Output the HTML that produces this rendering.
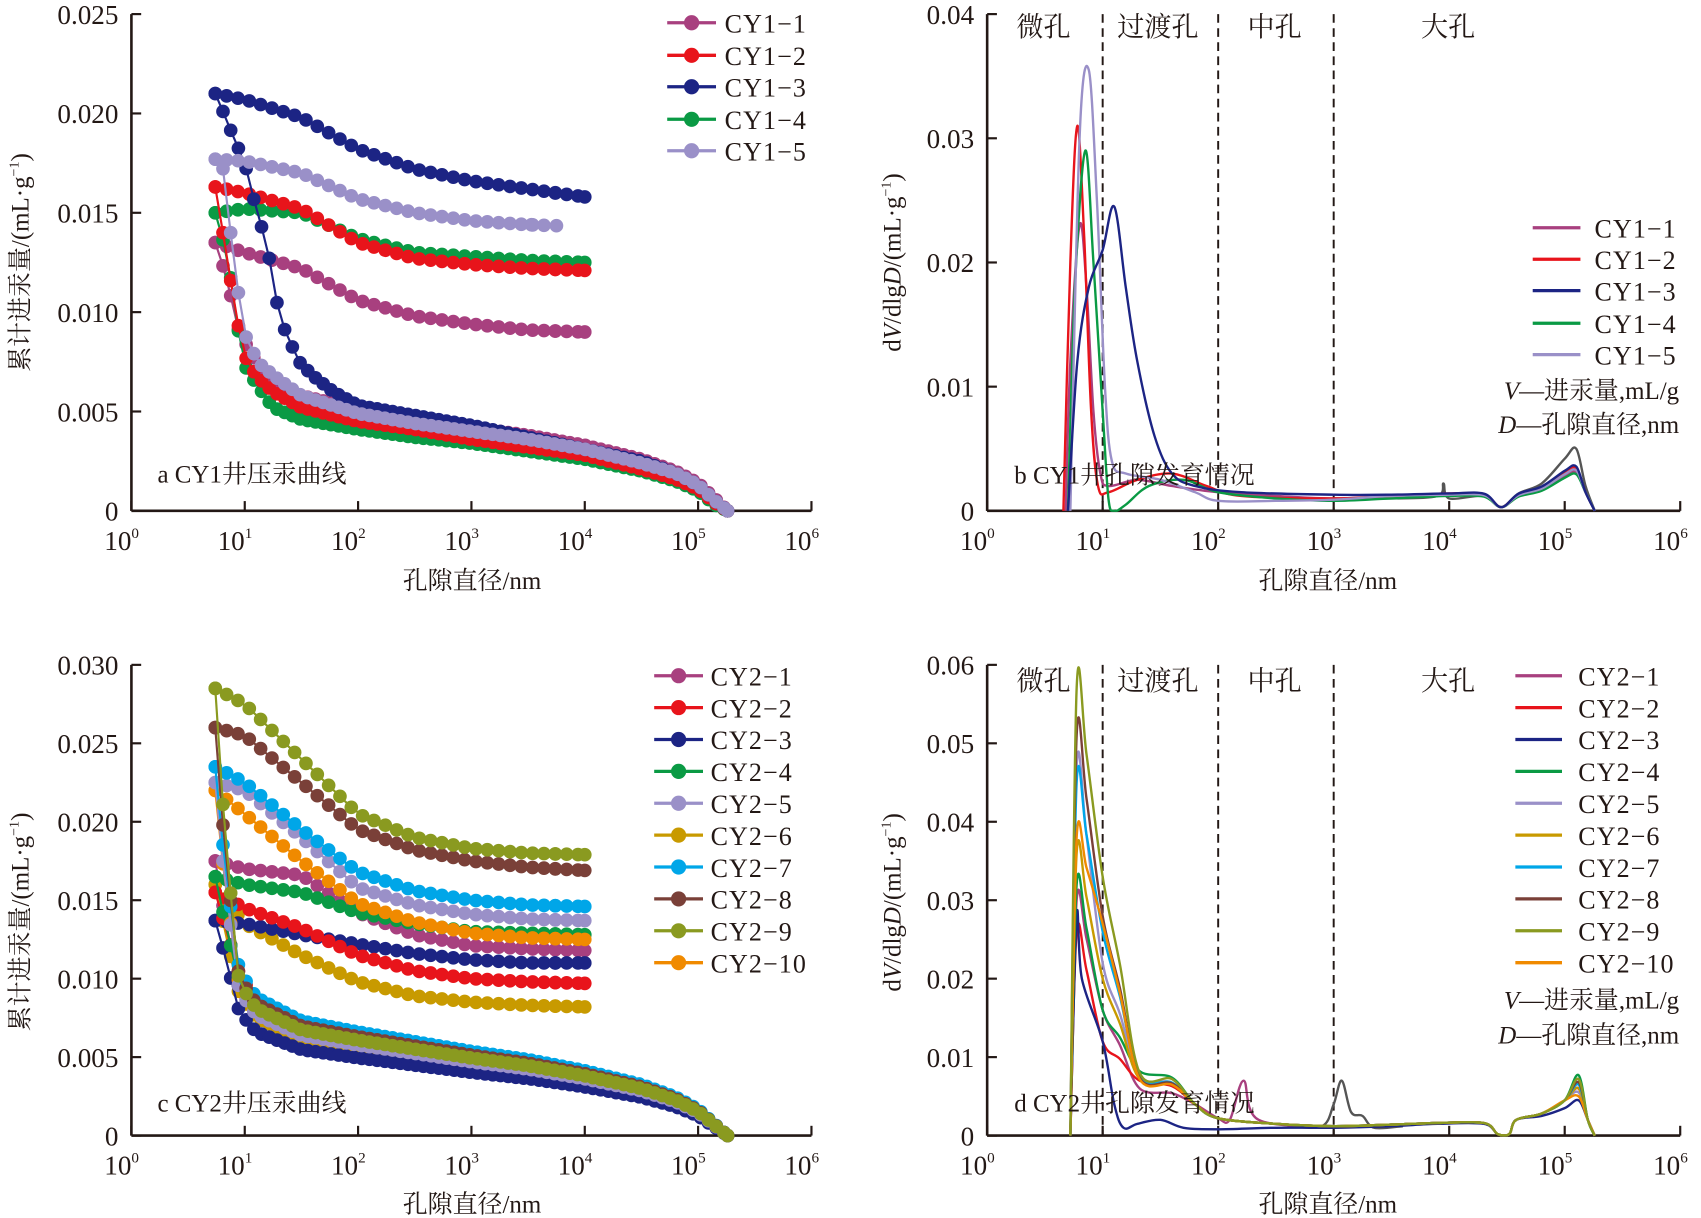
<!DOCTYPE html>
<html><head><meta charset="utf-8">
<style>
html,body{margin:0;padding:0;background:#fff;}
svg{display:block;}
text{font-family:"Liberation Serif","Noto Serif CJK SC","Noto Sans CJK SC",serif;fill:#231815;}
</style></head>
<body>
<svg id="s" width="1701" height="1218" viewBox="0 0 1568 1123" xmlns="http://www.w3.org/2000/svg">
<defs>
<clipPath id="ca"><rect x="121" y="0" width="640" height="478"/></clipPath>
<clipPath id="cb"><rect x="910" y="0" width="640" height="472"/></clipPath>
<clipPath id="cc"><rect x="121" y="600" width="640" height="454"/></clipPath>
<clipPath id="cd"><rect x="910" y="600" width="640" height="448"/></clipPath>
</defs>
<g id="g"></g>
<g font-size="23">
<text x="435" y="543" text-anchor="middle">孔隙直径/nm</text>
<text x="1224" y="543" text-anchor="middle">孔隙直径/nm</text>
<text x="435" y="1118" text-anchor="middle">孔隙直径/nm</text>
<text x="1224" y="1118" text-anchor="middle">孔隙直径/nm</text>
<text transform="translate(26,242) rotate(-90)" text-anchor="middle">累计进汞量/(mL·g<tspan font-size="13" dy="-9">−1</tspan><tspan dy="9">)</tspan></text>
<text transform="translate(26,850) rotate(-90)" text-anchor="middle">累计进汞量/(mL·g<tspan font-size="13" dy="-9">−1</tspan><tspan dy="9">)</tspan></text>
<text transform="translate(830,242) rotate(-90)" text-anchor="middle">d<tspan font-style="italic">V</tspan>/dlg<tspan font-style="italic">D</tspan>/(mL·g<tspan font-size="13" dy="-9">−1</tspan><tspan dy="9">)</tspan></text>
<text transform="translate(830,832) rotate(-90)" text-anchor="middle">d<tspan font-style="italic">V</tspan>/dlg<tspan font-style="italic">D</tspan>/(mL·g<tspan font-size="13" dy="-9">−1</tspan><tspan dy="9">)</tspan></text>
<text x="145" y="445">a CY1井压汞曲线</text>
<text x="145" y="1025">c CY2井压汞曲线</text>
<text x="935" y="446">b CY1井孔隙发育情况</text>
<text x="935" y="1025">d CY2井孔隙发育情况</text>
<g font-size="25">
<text x="937" y="33">微孔</text><text x="1030" y="33">过渡孔</text><text x="1150" y="33">中孔</text><text x="1310" y="33">大孔</text>
<text x="937" y="636">微孔</text><text x="1030" y="636">过渡孔</text><text x="1150" y="636">中孔</text><text x="1310" y="636">大孔</text>
</g>
<text x="1548" y="368" text-anchor="end"><tspan font-style="italic">V</tspan>—进汞量,mL/g</text>
<text x="1548" y="399" text-anchor="end"><tspan font-style="italic">D</tspan>—孔隙直径,nm</text>
<text x="1548" y="930" text-anchor="end"><tspan font-style="italic">V</tspan>—进汞量,mL/g</text>
<text x="1548" y="962" text-anchor="end"><tspan font-style="italic">D</tspan>—孔隙直径,nm</text>
</g>
</svg>
<script>
(function(){
var NS="http://www.w3.org/2000/svg", G=document.getElementById("g");
function el(t,a,p){var e=document.createElementNS(NS,t);for(var k in a)e.setAttribute(k,a[k]);(p||G).appendChild(e);return e;}
function txt(x,y,s,a){var e=el("text",Object.assign({x:x,y:y},a||{}));e.textContent=s;return e;}
var P={
 a:{x0:121,dec:104.5,y0:471,ytop:13,vmax:0.025},
 b:{x0:910,dec:106.5,y0:471,ytop:13,vmax:0.04},
 c:{x0:121,dec:104.5,y0:1047,ytop:613,vmax:0.03},
 d:{x0:910,dec:106.5,y0:1047,ytop:613,vmax:0.06}};
function X(p,l){return p.x0+l*p.dec;}
function Y(p,v){return p.y0-v/p.vmax*(p.y0-p.ytop);}
function interp(pts,l){if(l<=pts[0][0])return pts[0][1];for(var i=1;i<pts.length;i++){if(l<=pts[i][0]){var a=pts[i-1],b=pts[i];return a[1]+(b[1]-a[1])*(l-a[0])/(b[0]-a[0]);}}return pts[pts.length-1][1];}
function axes(p,ticks,fmt){
 var xe=X(p,6);
 el("line",{x1:p.x0,y1:p.ytop,x2:p.x0,y2:p.y0,stroke:"#231815","stroke-width":2.4});
 el("line",{x1:p.x0,y1:p.y0,x2:xe,y2:p.y0,stroke:"#231815","stroke-width":2.4});
 for(var i=0;i<=6;i++){var x=X(p,i);el("line",{x1:x,y1:p.y0,x2:x,y2:p.y0-9,stroke:"#231815","stroke-width":2});
  var t=txt(x-9,p.y0+36,"10",{"font-size":25,"text-anchor":"middle"});var s=document.createElementNS(NS,"tspan");s.setAttribute("font-size","14");s.setAttribute("dy","-11");s.textContent=""+i;t.appendChild(s);}
 ticks.forEach(function(v,i){var y=Y(p,v);el("line",{x1:p.x0,y1:y,x2:p.x0+9,y2:y,stroke:"#231815","stroke-width":2});
  txt(p.x0-12,y+9,fmt[i],{"font-size":25,"text-anchor":"end"});});
}
axes(P.a,[0,0.005,0.01,0.015,0.02,0.025],["0","0.005","0.010","0.015","0.020","0.025"]);
axes(P.c,[0,0.005,0.01,0.015,0.02,0.025,0.03],["0","0.005","0.010","0.015","0.020","0.025","0.030"]);
axes(P.b,[0,0.01,0.02,0.03,0.04],["0","0.01","0.02","0.03","0.04"]);
axes(P.d,[0,0.01,0.02,0.03,0.04,0.05,0.06],["0","0.01","0.02","0.03","0.04","0.05","0.06"]);
[P.b,P.d].forEach(function(p){[1,2,3].forEach(function(l){var x=X(p,l);el("line",{x1:x,y1:p.ytop,x2:x,y2:p.y0,stroke:"#231815","stroke-width":1.8,"stroke-dasharray":"8,5"});});});
var C1=["#a8407f","#e8141b","#1c2484","#0a9a44","#9a90c8"];
var C2=["#a8407f","#e8141b","#1c2484","#0a9a44","#9a90c8","#c89a00","#00a6e8","#7a4038","#8a9a20","#f08a00"];
function scatterSeries(p,clip,col,lower,upper,uend){
 var g=el("g",{"clip-path":"url(#"+clip+")"});
 var pts=[];for(var l=0.74;l<=5.261;l+=0.068)pts.push([l,interp(lower,l)]);pts.push([5.26,0]);
 var up=[];for(var l=0.74;l<uend-0.05;l+=0.1)up.push([l,interp(upper,l)]);up.push([uend-0.02-(uend>3.9?0.24:0.2),interp(upper,uend-0.24)]);up.push([uend,interp(upper,uend)]);
 up.sort(function(a,b){return a[0]-b[0];});
 function poly(a){return a.map(function(q){return X(p,q[0]).toFixed(1)+","+Y(p,q[1]).toFixed(1);}).join(" ");}
 el("polyline",{points:poly(pts),fill:"none",stroke:col,"stroke-width":2},g);
 el("polyline",{points:poly(up),fill:"none",stroke:col,"stroke-width":2},g);
 pts.concat(up).forEach(function(q){el("circle",{cx:X(p,q[0]),cy:Y(p,q[1]),r:6.3,fill:col},g);});
}
var UL=[0.74,1,1.5,2,2.5,3,3.5,4];
function mk(vals){return UL.map(function(l,i){return [l,vals[i]];});}
var aU=[
 mk([0.0135,0.013,0.0122,0.0106,0.0098,0.0094,0.0091,0.009]),
 mk([0.0163,0.016,0.0152,0.0135,0.0127,0.0124,0.0122,0.0121]),
 mk([0.021,0.0207,0.0198,0.0182,0.0172,0.0166,0.0162,0.0158]),
 mk([0.015,0.0152,0.015,0.0137,0.013,0.0128,0.0126,0.0125]),
 mk([0.0177,0.0176,0.017,0.0157,0.015,0.0146,0.0144,0.0143])];
var aL=[
 [[0.74,0.0135],[0.8,0.0125],[0.87,0.011],[0.93,0.0093],[1.0,0.0085],[1.1,0.0075],[1.2,0.0068],[1.5,0.0058],[2,0.0051],[2.5,0.0047],[3,0.0042],[3.5,0.0038],[4,0.0033],[4.5,0.0026],[4.8,0.002],[5,0.0014],[5.15,0.0006],[5.26,0]],
 [[0.74,0.0163],[0.78,0.015],[0.85,0.0125],[0.93,0.0097],[1.0,0.0078],[1.1,0.0068],[1.25,0.006],[1.5,0.0052],[2,0.0045],[2.5,0.0041],[3,0.0036],[3.5,0.0032],[4,0.0028],[4.5,0.0021],[4.8,0.0016],[5,0.0011],[5.15,0.0004],[5.26,0]],
 [[0.74,0.021],[0.78,0.0205],[0.85,0.0195],[1.0,0.0175],[1.11,0.015],[1.18,0.0137],[1.26,0.0115],[1.3,0.0098],[1.4,0.0085],[1.48,0.0075],[1.6,0.0068],[1.78,0.006],[2,0.0053],[2.5,0.0048],[3,0.0043],[3.5,0.0037],[4,0.0031],[4.5,0.0025],[4.8,0.0019],[5,0.0013],[5.15,0.0005],[5.26,0]],
 [[0.74,0.015],[0.78,0.0142],[0.85,0.0128],[0.93,0.0095],[1.0,0.0073],[1.1,0.0064],[1.25,0.0052],[1.5,0.0046],[2,0.0041],[2.5,0.0037],[3,0.0034],[3.5,0.003],[4,0.0026],[4.5,0.002],[4.8,0.0015],[5,0.001],[5.15,0.0003],[5.26,0]],
 [[0.74,0.0177],[0.8,0.0176],[0.85,0.0152],[0.93,0.0115],[1.0,0.0089],[1.07,0.008],[1.15,0.0073],[1.3,0.0066],[1.5,0.0058],[2,0.0049],[2.5,0.0044],[3,0.004],[3.5,0.0036],[4,0.0031],[4.5,0.0024],[4.8,0.0019],[5,0.0013],[5.15,0.0005],[5.26,0]]];
[0,3,1,2,4].forEach(function(i){scatterSeries(P.a,"ca",C1[i],aL[i],aU[i],i==4?3.75:4.0);});
var cU=[
 mk([0.0175,0.017,0.0166,0.0142,0.0128,0.0121,0.0119,0.0118]),
 mk([0.0155,0.0145,0.0132,0.0115,0.0105,0.01,0.0098,0.0097]),
 mk([0.0137,0.0135,0.0128,0.0122,0.0116,0.0112,0.011,0.011]),
 mk([0.0165,0.016,0.0155,0.0142,0.0135,0.013,0.0129,0.0128]),
 mk([0.0225,0.022,0.019,0.0158,0.0147,0.0141,0.0138,0.0137]),
 mk([0.016,0.0135,0.0115,0.0098,0.0089,0.0085,0.0083,0.0082]),
 mk([0.0235,0.0225,0.0195,0.0168,0.0156,0.015,0.0147,0.0146]),
 mk([0.026,0.0255,0.0225,0.0195,0.0182,0.0175,0.0171,0.0169]),
 mk([0.0285,0.0275,0.024,0.0205,0.019,0.0183,0.018,0.0179]),
 mk([0.022,0.0205,0.0175,0.0148,0.0136,0.0129,0.0126,0.0125])];
var kk=[0.0078,0.0086,0.0066,0.0082,0.0077,0.0075,0.0088,0.0084,0.0081,0.008];
function cLower(top,k){return [[0.74,top],[0.82,(top+k)/2+0.0015],[0.95,k*1.2],[1.1,k],[1.5,k*0.83],[2,k*0.75],[2.5,k*0.68],[3,k*0.61],[3.5,k*0.55],[4,k*0.47],[4.5,k*0.37],[4.8,k*0.28],[5,k*0.19],[5.15,k*0.08],[5.26,0]];}
[0,5,2,1,3,9,4,6,7,8].forEach(function(i){scatterSeries(P.c,"cc",C2[i],cLower(cU[i][0][1],kk[i]),cU[i],4.0);});
function smooth(p,pts,col,clip,w){
 var q=pts.map(function(a){return [X(p,a[0]),Y(p,a[1])];});
 var d="M"+q[0][0].toFixed(1)+","+q[0][1].toFixed(1);
 for(var i=0;i<q.length-1;i++){var p0=q[Math.max(i-1,0)],p1=q[i],p2=q[i+1],p3=q[Math.min(i+2,q.length-1)];
  var c1=[p1[0]+(p2[0]-p0[0])/6,p1[1]+(p2[1]-p0[1])/6],c2=[p2[0]-(p3[0]-p1[0])/6,p2[1]-(p3[1]-p1[1])/6];
  d+=" C"+c1[0].toFixed(1)+","+c1[1].toFixed(1)+" "+c2[0].toFixed(1)+","+c2[1].toFixed(1)+" "+p2[0].toFixed(1)+","+p2[1].toFixed(1);}
 var g=el("g",{"clip-path":"url(#"+clip+")"});
 el("path",{d:d,fill:"none",stroke:col,"stroke-width":w||2.2},g);
}
var tailB=function(s){return [[4.3,0.0012*s],[4.45,0.0003],[4.6,0.0012*s],[4.8,0.0017*s],[5,0.0028*s],[5.1,0.0031*s],[5.18,0.0015],[5.26,0]];};
smooth(P.b,[[3.0,0.001],[3.5,0.001],[3.9,0.0012],[3.95,0.0022],[4.0,0.001],[4.3,0.0012],[4.45,0.0003],[4.6,0.0014],[4.8,0.0022],[5,0.0042],[5.1,0.005],[5.18,0.002],[5.26,0]],"#555",'cb');
var B=[
 [[0.68,0],[0.72,0.012],[0.8,0.023],[0.86,0.018],[0.92,0.008],[0.98,0.003],[1.05,0.002],[1.3,0.0025],[1.6,0.002],[2,0.0015],[2.5,0.0012],[3,0.001],[3.5,0.0012],[4,0.0013]].concat(tailB(1)),
 [[0.66,0],[0.72,0.02],[0.78,0.031],[0.84,0.022],[0.9,0.008],[0.96,0.002],[1.05,0.0015],[1.3,0.0025],[1.6,0.003],[1.9,0.002],[2.2,0.0012],[3,0.001],[3.5,0.0012],[4,0.0014]].concat(tailB(1.1)),
 [[0.7,0],[0.78,0.012],[0.88,0.018],[1.0,0.021],[1.1,0.0245],[1.2,0.018],[1.3,0.012],[1.45,0.006],[1.6,0.003],[1.8,0.002],[2.2,0.0015],[3,0.0013],[3.5,0.0013],[4,0.0014]].concat(tailB(1.15)),
 [[0.7,0],[0.76,0.018],[0.85,0.029],[0.92,0.02],[1.0,0.008],[1.05,0.001],[1.1,0],[1.2,0.0005],[1.4,0.002],[1.7,0.0025],[2,0.0015],[2.5,0.001],[3,0.0008],[3.5,0.001],[4,0.0012]].concat(tailB(0.95)),
 [[0.72,0],[0.8,0.03],[0.88,0.0355],[0.95,0.025],[1.02,0.01],[1.08,0.004],[1.2,0.003],[1.5,0.0025],[1.8,0.0015],[2,0.0008],[2.5,0.0008],[3,0.0009],[3.5,0.0012],[4,0.0013]].concat(tailB(1.05))];
[0,1,3,4,2].forEach(function(i){smooth(P.b,B[i],C1[i],'cb');});
var Dp=[[0.03,0.016,0.006,0.006],[0.026,0.012,0.007,0.006],[0.028,0.008,0.002,0.0045],[0.032,0.016,0.0082,0.0077],[0.047,0.022,0.0075,0.0055],[0.036,0.02,0.0072,0.006],[0.045,0.026,0.0075,0.0065],[0.051,0.028,0.0074,0.0068],[0.057,0.033,0.008,0.0072],[0.038,0.027,0.0072,0.005]];
smooth(P.d,[[2.6,0.0012],[2.9,0.0012],[3.0,0.004],[3.07,0.007],[3.15,0.003],[3.25,0.0025],[3.35,0.001],[3.6,0.0012]],"#555","cd");
[0,1,2,3,4,5,6,7,9,8].forEach(function(i){var a=Dp[i],pk=a[0],v1=a[1],pl=a[2],bb=a[3];
 var pts=[[0.72,0],[0.775,pk],[0.86,pk*0.65+v1*0.35],[1.0,v1],[1.15,v1*0.55+pl*0.45],[1.32,pl],[1.6,pl*0.9],[1.8,0.004],[2.0,0.0022],[2.5,0.0015],[3,0.0012],[3.5,0.0014],[3.9,0.0016],[4.3,0.0016],[4.42,0.0002],[4.52,0.0002],[4.58,0.002],[4.8,0.0028],[5.0,0.0045],[5.12,bb],[5.2,0.002],[5.26,0]];
 if(i==2){pts=[[0.72,0],[0.775,pk],[0.82,0.02],[1.0,0.012],[1.1,0.004],[1.18,0.001],[1.3,0.0015],[1.5,0.002],[1.7,0.001],[2.0,0.0008],[2.5,0.001],[3,0.001],[3.5,0.0012],[3.9,0.0015],[4.3,0.0015],[4.42,0.0002],[4.52,0.0002],[4.58,0.002],[4.8,0.0025],[5.0,0.0035],[5.12,bb],[5.2,0.002],[5.26,0]];}
 if(i==0){pts.splice(9,1,[2.1,0.002],[2.22,0.007],[2.35,0.002]);}
 smooth(P.d,pts,C2[i],"cd");});
function legA(x1,x2,tx,ys,names,cols,dots){ys.forEach(function(y,i){el("line",{x1:x1,y1:y,x2:x2,y2:y,stroke:cols[i],"stroke-width":3});if(dots)el("circle",{cx:(x1+x2)/2,cy:y,r:7,fill:cols[i]});txt(tx,y+9,names[i],{"font-size":24,"letter-spacing":"1"});});}
var n1=["CY1−1","CY1−2","CY1−3","CY1−4","CY1−5"];
var n2=[];for(var i=1;i<=10;i++)n2.push("CY2−"+i);
legA(615,660,668,[21,51,80,110,139],n1,C1,true);
legA(1413,1457,1470,[210,239,268,298,327],n1,C1,false);
var ys2=[];for(var i=0;i<10;i++)ys2.push(623+i*29.4);
legA(603,648,655,ys2,n2,C2,true);
legA(1397,1440,1455,ys2,n2,C2,false);
})();
</script>
</body></html>
